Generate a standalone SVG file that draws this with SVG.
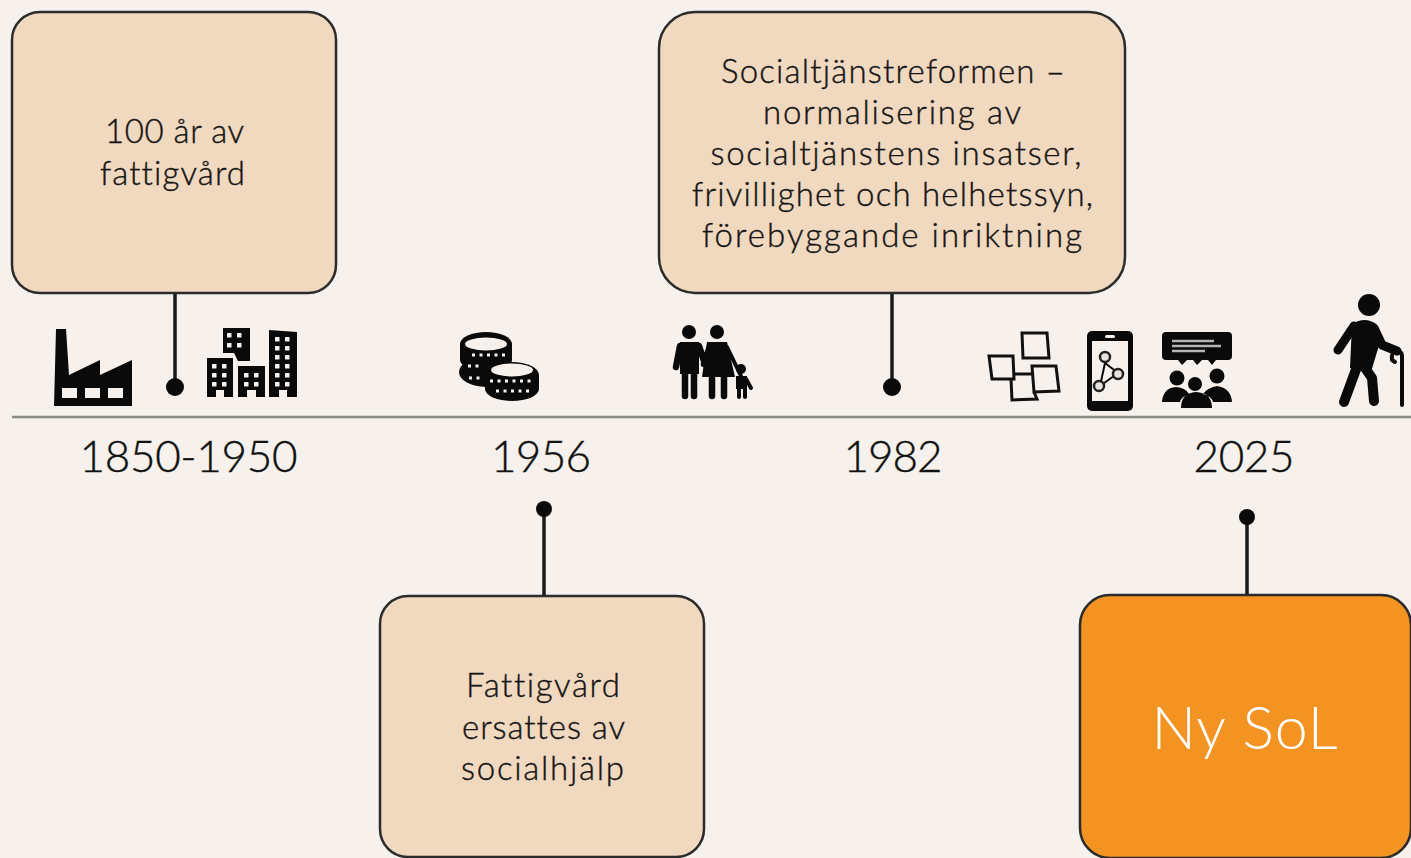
<svg xmlns="http://www.w3.org/2000/svg" width="1411" height="858" viewBox="0 0 1411 858">
<defs><style>
.box{fill:#f1d9c0;stroke:#2b2b2b;stroke-width:2.5}
.t{font-family:Lato,"Open Sans",sans-serif;font-size:33px;font-weight:300;font-variant-ligatures:none;fill:#151515;stroke:#151515;stroke-width:.4px;text-anchor:middle}
.y{font-family:Lato,"Open Sans",sans-serif;font-size:44px;font-weight:300;fill:#111;stroke:#111;stroke-width:.4px;text-anchor:middle}
.c{stroke:#1a1a1a;stroke-width:3.5;fill:none}
.w{fill:#f6f1ed}
.o{fill:none;stroke:#0a0a0a}
.limb{fill:none;stroke:#0a0a0a;stroke-linecap:round;stroke-linejoin:round}
</style>
<rect id="win" width="4.500" height="4.500" rx=".5" fill="#f6f1ed"/>
</defs>
<rect width="1411" height="858" fill="#f6f1ed"/>
<g id="connectors">
<path class="c" d="M175 292V387M892 292V387M544 509V596M1247 517V596"/>
<circle cx="175" cy="387" r="9" fill="#0a0a0a"/><circle cx="892" cy="387" r="9" fill="#0a0a0a"/><circle cx="544" cy="509" r="8" fill="#0a0a0a"/><circle cx="1247" cy="517" r="8" fill="#0a0a0a"/>
<path d="M12 417H1411" stroke="#8d8d88" stroke-width="2.5"/>
</g>
<g id="box-1850"><rect class="box" x="12" y="12" width="324" height="281" rx="28"/><text class="t" x="174.500" y="143" textLength="139">100 år av</text><text class="t" x="172.500" y="185" textLength="145">fattigvård</text></g>
<g id="box-1982"><rect class="box" x="659" y="12" width="466" height="281" rx="36"/>
<text class="t" x="893" y="83" textLength="344">Socialtjänstreformen –</text><text class="t" x="892" y="124" textLength="258">normalisering av</text><text class="t" x="896" y="165" textLength="371">socialtjänstens insatser,</text><text class="t" x="892.500" y="206" textLength="401">frivillighet och helhetssyn,</text><text class="t" x="892" y="247" textLength="380">förebyggande inriktning</text></g>
<g id="box-1956"><rect class="box" x="380" y="596" width="324" height="261" rx="28"/><text class="t" x="543" y="697" textLength="154">Fattigvård</text><text class="t" x="543.500" y="739" textLength="163">ersattes av</text><text class="t" x="542.500" y="780" textLength="163">socialhjälp</text></g>
<g id="box-2025"><rect x="1080" y="595" width="331" height="263" rx="30" fill="#f39322" stroke="#2b2b2b" stroke-width="2.5"/><text x="1245" y="749" font-family="Lato,'Open Sans',sans-serif" font-size="59" font-weight="300" letter-spacing="1" fill="#fff" text-anchor="middle">Ny SoL</text></g>
<g id="year-1850"><text class="y" x="188.500" y="472" textLength="218">1850-1950</text></g>
<g id="year-1956"><text class="y" x="541" y="472" textLength="100">1956</text></g>
<g id="year-1982"><text class="y" x="893" y="472" textLength="99">1982</text></g>
<g id="year-2025"><text class="y" x="1244" y="472" textLength="101">2025</text></g>
<g id="icon-factory"><path fill="#0a0a0a" d="M56 329H66L69 375L100 360V375L132 360V406H54Z"/><rect class="w" x="62" y="388" width="15" height="10"/><rect class="w" x="85" y="388" width="15" height="10"/><rect class="w" x="108" y="388" width="15" height="10"/></g>
<g id="icon-buildings"><path fill="#0a0a0a" d="M223 328H250V361H238L234 353H223ZM207 358H233V397H224V390H216V397H207ZM238 366H265V397H256V390H247V397H238ZM269 330L297 332V397H287V390H279V397H269Z"/>
<use href="#win" x="227" y="333"/><use href="#win" x="237" y="333"/><use href="#win" x="227" y="343"/><use href="#win" x="237" y="343"/>
<use href="#win" x="212" y="364"/><use href="#win" x="222" y="364"/><use href="#win" x="212" y="373"/><use href="#win" x="222" y="373"/><use href="#win" x="212" y="382"/><use href="#win" x="222" y="382"/>
<use href="#win" x="244" y="373"/><use href="#win" x="254" y="373"/><use href="#win" x="244" y="382"/><use href="#win" x="254" y="382"/>
<use href="#win" x="275" y="337"/><use href="#win" x="285" y="337"/><use href="#win" x="275" y="346"/><use href="#win" x="285" y="346"/><use href="#win" x="275" y="355"/><use href="#win" x="285" y="355"/><use href="#win" x="275" y="364"/><use href="#win" x="285" y="364"/><use href="#win" x="275" y="373"/><use href="#win" x="285" y="373"/><use href="#win" x="275" y="382"/><use href="#win" x="285" y="382"/></g>
<g id="icon-coins"><g fill="#0a0a0a"><ellipse cx="486" cy="344" rx="26" ry="12"/><rect x="460" y="344" width="52" height="16"/><ellipse cx="486" cy="360" rx="26" ry="11"/><ellipse cx="486" cy="372" rx="27" ry="15"/><ellipse cx="512" cy="375" rx="27" ry="13"/><rect x="485" y="375" width="54" height="14"/><ellipse cx="512" cy="389" rx="27" ry="12"/></g>
<ellipse class="w" cx="486" cy="344" rx="21" ry="6.500"/><ellipse class="w" cx="512" cy="370" rx="21" ry="6.500"/>
<path d="M472 355H505M468 366H481M469 378H484M490 381H534M496 391H530" stroke="#f6f1ed" stroke-width="3" stroke-dasharray="3 4.500" fill="none"/></g>
<g id="icon-family"><g fill="#0a0a0a"><circle cx="689" cy="332" r="7"/><circle cx="717" cy="332" r="7"/><circle cx="741" cy="369" r="5"/>
<path d="M680 342H699V374H680Z"/><path d="M707 342H727L735 377H702Z"/><path d="M736 376H747V389H736Z"/></g>
<path class="limb" stroke-width="6.500" d="M680 346L676 367M699 346L705 364M685 372V396M694 372V396M710 346L704 364M712 377V396M724 377V396"/>
<path class="limb" stroke-width="4" d="M727 347L741 376M746 379L751 388M739 388V397M745 388V397"/></g>
<g id="icon-notes" fill="none" stroke="#111" stroke-width="3"><path d="M1022 333H1047L1049 358H1023Z"/><path d="M989 356H1013L1014 379H992Z"/><path d="M1011 379L1012 400 1037 399 1034 392"/><path d="M1032 366H1056L1059 391 1034 392Z"/><path d="M1014 374H1032"/></g>
<g id="icon-phone"><rect x="1087" y="331" width="46" height="80" rx="5" fill="#0a0a0a"/><rect x="1092" y="341" width="36" height="60" fill="#f6f1ed"/><rect x="1105" y="335" width="10" height="3" rx="1.500" fill="#f6f1ed"/>
<path class="o" stroke-width="2" d="M1105 363L1118 373L1100 386Z"/><g fill="#e8e4e0" stroke="#222" stroke-width="2.500"><circle cx="1105" cy="357" r="5"/><circle cx="1118" cy="374" r="5"/><circle cx="1099" cy="386" r="5"/></g></g>
<g id="icon-meeting"><path fill="#0a0a0a" d="M1166 332H1228Q1232 332 1232 336V356Q1232 360 1228 360H1216L1212 365 1208 360H1202L1197 365 1193 360H1187L1182 365 1178 360H1166Q1162 360 1162 356V336Q1162 332 1166 332Z"/>
<path d="M1172 341H1214M1172 346H1221M1172 351H1205" stroke="#b5b5b5" stroke-width="2.500"/>
<g fill="#0a0a0a"><circle cx="1177" cy="378" r="7.500"/><circle cx="1195" cy="384" r="7"/><circle cx="1217" cy="376" r="7.500"/><path d="M1162 402Q1163 388 1176 387Q1186 388 1189 394Q1181 397 1180 402ZM1232 402Q1231 388 1217 386Q1207 388 1203 394Q1212 397 1213 402ZM1181 408Q1181 393 1196 392Q1212 393 1212 408Z"/></g></g>
<g id="icon-walker"><circle cx="1369" cy="305" r="11" fill="#0a0a0a"/>
<path fill="#0a0a0a" d="M1352 324Q1365 316 1376 324L1380 342L1371 372L1350 368Z"/>
<path class="limb" stroke-width="9" d="M1354 326L1338 350M1374 328L1382 345L1397 351"/>
<path class="limb" stroke-width="10" d="M1358 364L1344 402M1363 365L1372 378L1374 401"/>
<path class="limb" stroke-width="4" d="M1402 405V356Q1402 351 1396 351Q1391 352 1392 360L1395 362"/></g>
</svg>
